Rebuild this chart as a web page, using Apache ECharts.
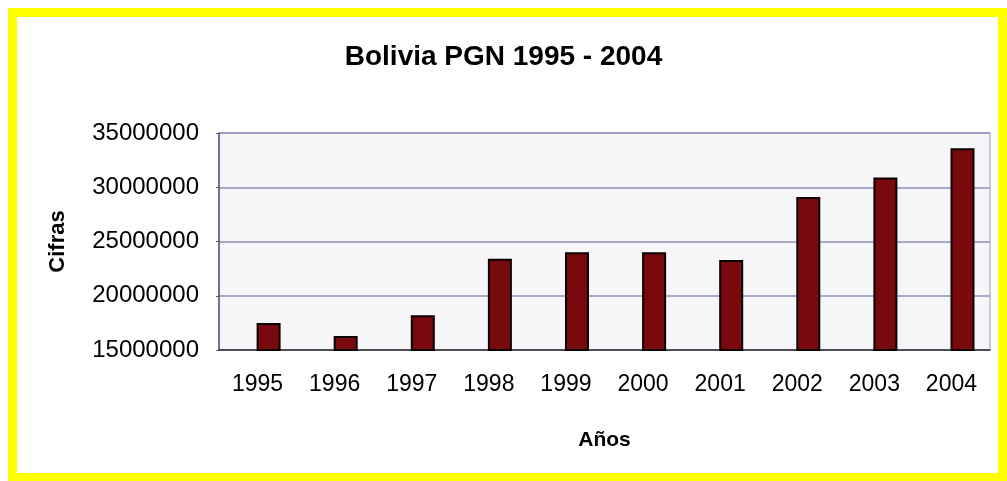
<!DOCTYPE html>
<html>
<head>
<meta charset="utf-8">
<script src="https://cdn.jsdelivr.net/npm/echarts@6/dist/echarts.min.js"></script>
<style>
  html, body { margin: 0; padding: 0; background: #fff; }
  #chart { width: 1007px; height: 481px; }
</style>
</head>
<body>
<div id="chart"></div>
<script>
// datos
var years = ['1995', '1996', '1997', '1998', '1999', '2000', '2001', '2002', '2003', '2004']
var pgn = [17500000, 16300000, 18200000, 23400000, 24000000, 24000000, 23300000, 29100000, 30900000, 33600000]
// serie vacia para desplazar las barras como en Excel
var empty = [null, null, null, null, null, null, null, null, null, null]

var chart = echarts.init(document.getElementById('chart'))

var option = {
  backgroundColor: '#fff',
  animation: false,
  textStyle: { fontFamily: 'Liberation Sans, Arial, sans-serif' },
  title: {
    text: 'Bolivia PGN 1995 - 2004',
    left: 'center',
    top: 38,
    textStyle: { fontSize: 28, fontWeight: 'bold', color: '#000' }
  },
  graphic: [{
    type: 'rect',
    shape: { x: 12.5, y: 12.5, width: 990, height: 465 },
    style: { fill: 'none', stroke: '#ffff00', lineWidth: 9 },
    z: 100
  }],
  grid: {
    left: 219, right: 17, top: 133, bottom: 131,
    show: true,
    backgroundColor: '#f6f6f8',
    borderColor: '#9a9ab0',
    borderWidth: 1
  },
  xAxis: {
    type: 'category',
    data: years,
    name: 'Años',
    nameLocation: 'middle',
    nameGap: 80,
    nameTextStyle: { fontSize: 21, fontWeight: 'bold', color: '#000' },
    axisLine: { lineStyle: { color: '#333', width: 1.5 } },
    axisTick: { length: 5, lineStyle: { color: '#333' } },
    axisLabel: { fontSize: 23, color: '#000', margin: 23 }
  },
  yAxis: {
    type: 'value',
    min: 15000000,
    max: 35000000,
    interval: 5000000,
    name: 'Cifras',
    nameLocation: 'middle',
    nameGap: 150,
    nameTextStyle: { fontSize: 22, fontWeight: 'bold', color: '#000' },
    axisLine: { show: true, lineStyle: { color: '#55557a', width: 1.5 } },
    axisTick: { show: true, length: 3, lineStyle: { color: '#55557a' } },
    axisLabel: { fontSize: 24, color: '#000', margin: 20, formatter: function (v) { return String(v) } },
    splitLine: { lineStyle: { color: '#8e8eb8', width: 1.5 } }
  },
  series: [
    {
      type: 'bar',
      data: empty,
      barWidth: 24,
      barGap: '-8%'
    },
    {
      name: 'PGN',
      type: 'bar',
      data: pgn,
      barWidth: 24,
      itemStyle: { color: '#780a0e', borderColor: '#0a0000', borderWidth: 2 }
    }
  ]
}
chart.setOption(option)
</script>
</body>
</html>
